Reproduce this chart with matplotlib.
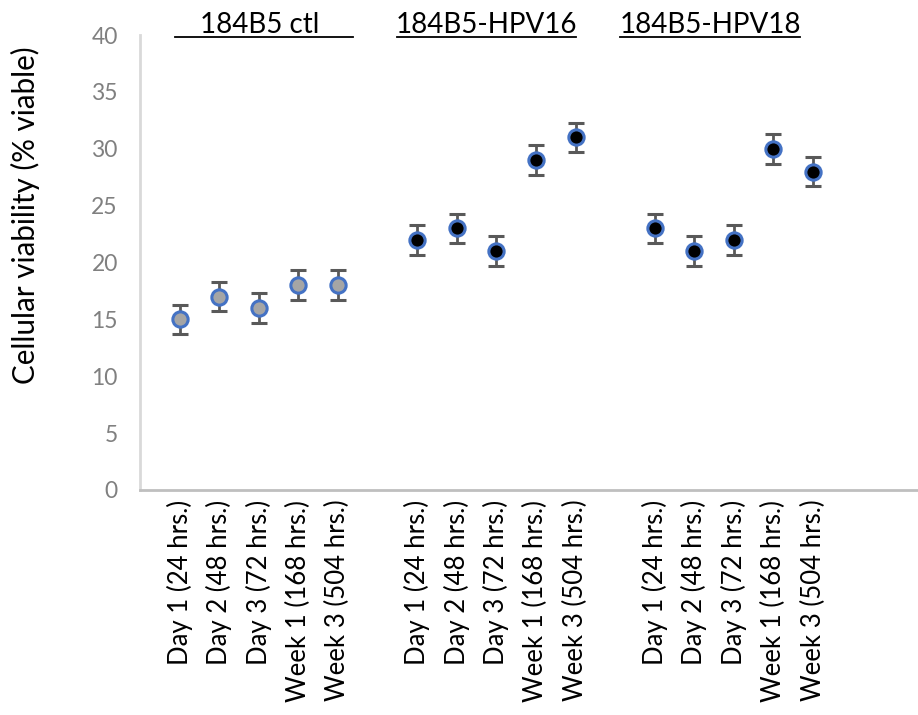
import numpy as np
import matplotlib.pyplot as plt

plt.rcParams['font.family'] = ['Lato', 'DejaVu Sans']

# data
timepoints = ["Day 1 (24 hrs.)", "Day 2 (48 hrs.)", "Day 3 (72 hrs.)",
              "Week 1 (168 hrs.)", "Week 3 (504 hrs.)"]
groups = ["184B5 ctl", "184B5-HPV16", "184B5-HPV18"]
ctl_vals = [15, 17, 16, 18, 18]
hpv16_vals = [22, 23, 21, 29, 31]
hpv18_vals = [23, 21, 22, 30, 28]
err = 1.3

# positions: one empty slot before each group
ctl_x = np.arange(1, 6)
hpv16_x = np.arange(7, 12)
hpv18_x = np.arange(13, 18)

fig = plt.figure(figsize=(9.18, 7.15), dpi=100)
ax = fig.add_axes([140/918, 1-490/715, 1-140/918, (490-35)/715])

def draw(x, y, face):
    ax.errorbar(x, y, yerr=err, fmt='o', ms=11, mfc=face, mec='#4472C4',
                mew=2.2, ecolor='#595959', elinewidth=2, capsize=6,
                capthick=2, zorder=3)

draw(ctl_x, ctl_vals, '#A5A5A5')
draw(hpv16_x, hpv16_vals, 'black')
draw(hpv18_x, hpv18_vals, 'black')

ax.set_xlim(0, 19.65)
ax.set_ylim(0, 40)
ax.set_yticks(np.arange(0, 41, 5))
ax.tick_params(axis='y', length=0, labelsize=16.5, labelcolor='#808080', pad=16)
ax.tick_params(axis='x', length=0, labelsize=18.5, pad=7)
xs = np.concatenate([ctl_x, hpv16_x, hpv18_x])
ax.set_xticks(xs)
ax.set_xticklabels(timepoints * 3, rotation=90, va='top', ha='center')
for s in ['top', 'right']:
    ax.spines[s].set_visible(False)
ax.spines['left'].set_color('#D9D9D9')
ax.spines['left'].set_linewidth(2)
ax.spines['bottom'].set_color('#BFBFBF')
ax.spines['bottom'].set_linewidth(2)

fig.text(25/918, 1-215/715, "Cellular viability (% viable)", rotation=90,
         ha='center', va='center', fontsize=21.3)

# group headings with underline
head_x = [3.03, 8.74, 14.4]
line_x = [(0.88, 5.38), (6.49, 11.0), (12.12, 16.67)]
for name, hx, (x0, x1) in zip(groups, head_x, line_x):
    ax.text(hx, 40.2, name, ha='center', va='baseline', fontsize=20,
            clip_on=False)
    ax.plot([x0, x1], [39.8, 39.8], color='black', lw=1.3, clip_on=False)

fig.savefig("out.png", dpi=100)
